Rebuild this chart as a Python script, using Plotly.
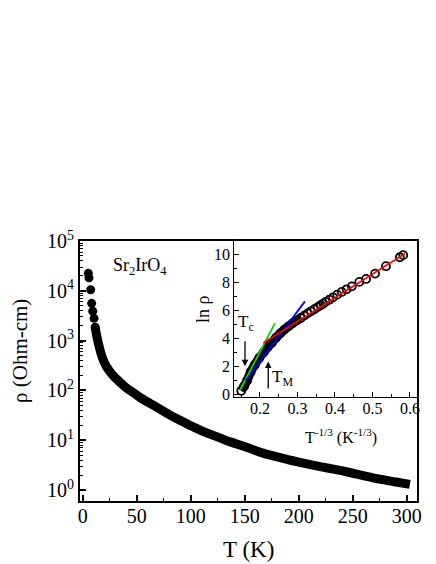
import plotly.graph_objects as go

# ---------------- data ----------------
T_main = [5.2, 5.8, 7.4, 8.3, 9.3, 10.5, 11.5, 13.0, 14.5, 16.5, 19.0, 22.0, 25.3, 29.5,
          34.5, 40.0, 46.9, 54.0, 62.3, 70.0, 77.8, 85.0, 93.0, 100.5, 108.6, 116.0,
          124.0, 133.0, 142.6, 155.0, 167.0, 182.0, 198.0, 213.0, 229.0, 245.0, 260.0,
          275.0, 290.0, 303.0]
rho_main = [22400, 18200, 10500, 5600, 3900, 2800, 1850, 1250, 885, 600, 410, 300, 238, 185,
            146, 114, 90, 70, 55, 44, 35, 28.5, 23.5, 19.2, 16.0, 13.7,
            11.8, 9.9, 8.4, 6.8, 5.5, 4.5, 3.7, 3.15, 2.7, 2.3, 1.94,
            1.65, 1.45, 1.30]

x_inset = [0.150, 0.158, 0.166, 0.175, 0.186, 0.198, 0.210, 0.220, 0.232, 0.243, 0.254,
           0.265, 0.276, 0.287, 0.298, 0.309, 0.318, 0.327, 0.336, 0.345, 0.354, 0.362,
           0.369, 0.375, 0.385, 0.395, 0.406, 0.418, 0.431, 0.445, 0.465, 0.483, 0.507,
           0.536, 0.573, 0.582]
lnrho_inset = [0.25, 0.60, 1.00, 1.60, 2.10, 2.60, 3.00, 3.35, 3.70, 4.05, 4.35,
               4.62, 4.85, 5.07, 5.27, 5.45, 5.62, 5.78, 5.93, 6.08, 6.23, 6.36,
               6.48, 6.60, 6.76, 6.93, 7.12, 7.31, 7.50, 7.71, 8.03, 8.24, 8.62,
               9.15, 9.79, 9.94]

red_fit_x = [0.209, 0.587]
red_fit_y = [3.66, 10.05]
green_fit_x = [0.147, 0.240]
green_fit_y = [0.31, 5.09]
blue_fit_x = [0.162, 0.320]
blue_fit_y = [0.98, 6.64]

main_x_ticks = [0, 50, 100, 150, 200, 250, 300]
main_y_tickvals = [1, 10, 100, 1000, 10000, 100000]
main_y_ticktext = ["10<sup>0</sup>", "10<sup>1</sup>", "10<sup>2</sup>",
                   "10<sup>3</sup>", "10<sup>4</sup>", "10<sup>5</sup>"]
inset_x_ticks = [0.2, 0.3, 0.4, 0.5, 0.6]
inset_x_ticktext = ["0.2", "0.3", "0.4", "0.5", "0.6"]
inset_y_ticks = [0, 2, 4, 6, 8, 10]

Tc_x, Tc_tail, Tc_head = 0.160, 3.9, 2.0
TM_x, TM_tail, TM_head = 0.222, 0.31, 2.34

FONT = "Liberation Serif"
W, H = 436, 564

# minor log tick positions
minor_log = [m * 10 ** k for k in range(0, 5) for m in range(2, 10)]

fig = go.Figure()

N_SEP = 7  # first points drawn as separate circles
fig.add_trace(go.Scatter(x=T_main[N_SEP - 1:], y=rho_main[N_SEP - 1:], mode="lines",
                         line=dict(color="black", width=9, simplify=False,
                                   shape="spline", smoothing=0.8),
                         xaxis="x", yaxis="y", showlegend=False, hoverinfo="skip"))
fig.add_trace(go.Scatter(x=T_main[:N_SEP], y=rho_main[:N_SEP], mode="markers",
                         marker=dict(color="black", size=9, symbol="circle"),
                         xaxis="x", yaxis="y", showlegend=False))

# inset: dense band
dense_n = sum(1 for v in x_inset if v < 0.31)
fig.add_trace(go.Scatter(x=x_inset[:dense_n], y=lnrho_inset[:dense_n], mode="lines",
                         line=dict(color="black", width=9, simplify=False,
                                   shape="spline", smoothing=0.8),
                         xaxis="x2", yaxis="y2", showlegend=False, hoverinfo="skip"))
fig.add_trace(go.Scatter(x=x_inset, y=lnrho_inset, mode="markers",
                         marker=dict(symbol="circle-open", size=8, color="black",
                                     line=dict(width=1.8, color="black")),
                         xaxis="x2", yaxis="y2", showlegend=False))
fig.add_trace(go.Scatter(x=green_fit_x, y=green_fit_y, mode="lines",
                         line=dict(color="#00e000", width=1.8),
                         xaxis="x2", yaxis="y2", showlegend=False))
fig.add_trace(go.Scatter(x=blue_fit_x, y=blue_fit_y, mode="lines",
                         line=dict(color="#0000ff", width=1.8),
                         xaxis="x2", yaxis="y2", showlegend=False))
fig.add_trace(go.Scatter(x=red_fit_x, y=red_fit_y, mode="lines",
                         line=dict(color="#ff0000", width=1.8),
                         xaxis="x2", yaxis="y2", showlegend=False))

def px_x(p):
    return p / W

def px_y(p):
    return 1 - p / H

main_dom_x = [px_x(80), px_x(416.7)]
main_dom_y = [px_y(500.7), px_y(241)]
ins_dom_x = [px_x(234.3), px_x(416.7)]
ins_dom_y = [px_y(396.7), px_y(241)]

axis_common = dict(showgrid=False, zeroline=False, showline=True, mirror=True,
                   linecolor="black", ticks="inside", tickcolor="black",
                   automargin=False)

fig.update_layout(
    template="none",
    width=W, height=H,
    margin=dict(l=0, r=0, t=0, b=0, pad=0, autoexpand=False),
    paper_bgcolor="white", plot_bgcolor="white",
    font=dict(family=FONT, color="black"),
    showlegend=False,
    xaxis=dict(domain=main_dom_x, range=[-2.5, 309.3], anchor="y",
               tickmode="array", tickvals=main_x_ticks,
               ticklen=6, tickwidth=1.5, linewidth=2, ticklabelstandoff=-4,
               tickfont=dict(size=20, family=FONT, color="black"),
               minor=dict(ticks="inside", dtick=25, tick0=0, ticklen=3,
                          tickwidth=1.2, tickcolor="black", showgrid=False),
               **axis_common),
    yaxis=dict(domain=main_dom_y, type="log", range=[-0.215, 5.0], anchor="x",
               tickmode="array", tickvals=main_y_tickvals, ticktext=main_y_ticktext,
               ticklen=6, tickwidth=1.5, linewidth=2,
               tickfont=dict(size=20, family=FONT, color="black"),
               minor=dict(ticks="inside", tickmode="array", tickvals=minor_log,
                          ticklen=3, tickwidth=1, tickcolor="black", showgrid=False),
               **axis_common),
    xaxis2=dict(domain=ins_dom_x, range=[0.1315, 0.618], anchor="y2",
                tickmode="array", tickvals=inset_x_ticks, ticktext=inset_x_ticktext,
                ticklen=5, tickwidth=1.2, linewidth=1.3, ticklabelstandoff=-3,
                tickfont=dict(size=16, family=FONT, color="black"),
                minor=dict(ticks="inside", dtick=0.05, tick0=0.0, ticklen=3,
                           tickwidth=1, tickcolor="black", showgrid=False),
                **axis_common),
    yaxis2=dict(domain=ins_dom_y, range=[-0.17, 10.95], anchor="x2",
                tickmode="array", tickvals=inset_y_ticks,
                ticklen=5, tickwidth=1.2, linewidth=1.3,
                tickfont=dict(size=16, family=FONT, color="black"),
                minor=dict(ticks="inside", dtick=1, tick0=0, ticklen=3,
                           tickwidth=1, tickcolor="black", showgrid=False),
                **axis_common),
)

ann = []
ann.append(dict(text="ρ (Ohm-cm)", x=px_x(20), y=px_y(351), xref="paper", yref="paper",
                textangle=-90, showarrow=False, font=dict(size=21, family=FONT),
                xanchor="center", yanchor="middle"))
ann.append(dict(text="T (K)", x=px_x(249), y=px_y(549), xref="paper", yref="paper",
                showarrow=False, font=dict(size=23, family=FONT),
                xanchor="center", yanchor="middle"))
ann.append(dict(text="Sr<sub>2</sub>IrO<sub>4</sub>", x=px_x(140), y=px_y(267),
                xref="paper", yref="paper", showarrow=False,
                font=dict(size=18, family=FONT), xanchor="center", yanchor="middle"))
ann.append(dict(text="T<sup>-1/3</sup> (K<sup>-1/3</sup>)", x=px_x(341), y=px_y(436),
                xref="paper", yref="paper", showarrow=False,
                font=dict(size=16, family=FONT), xanchor="center", yanchor="middle"))
ann.append(dict(text="ln ρ", x=px_x(203), y=px_y(309), xref="paper", yref="paper",
                textangle=-90, showarrow=False, font=dict(size=18, family=FONT),
                xanchor="center", yanchor="middle"))
ann.append(dict(text="T<sub>c</sub>", x=0.163, y=5.1, xref="x2", yref="y2",
                showarrow=False, font=dict(size=17, family=FONT),
                xanchor="center", yanchor="middle"))
ann.append(dict(text="T<sub>M</sub>", x=0.261, y=1.17, xref="x2", yref="y2",
                showarrow=False, font=dict(size=17, family=FONT),
                xanchor="center", yanchor="middle"))
ann.append(dict(text="", x=Tc_x, y=Tc_head, ax=Tc_x, ay=Tc_tail,
                xref="x2", yref="y2", axref="x2", ayref="y2",
                showarrow=True, arrowhead=2, arrowsize=1, arrowwidth=1.3,
                arrowcolor="black"))
ann.append(dict(text="", x=TM_x, y=TM_head, ax=TM_x, ay=TM_tail,
                xref="x2", yref="y2", axref="x2", ayref="y2",
                showarrow=True, arrowhead=2, arrowsize=1, arrowwidth=1.3,
                arrowcolor="black"))
fig.update_layout(annotations=ann)

fig.write_html("out.html",
               config={"displayModeBar": False, "responsive": False},
               post_script="document.body.style.margin='0px';"
                           "document.body.style.overflow='hidden';")
